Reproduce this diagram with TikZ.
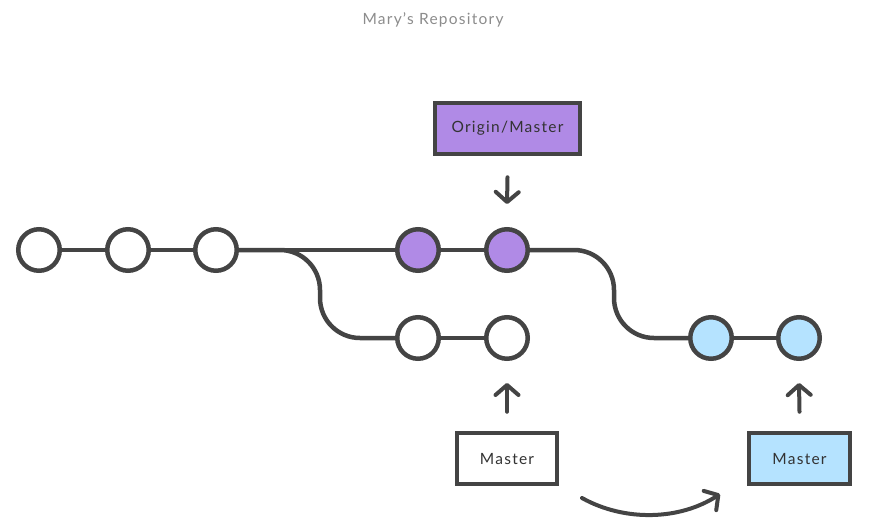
\documentclass[tikz,border=0pt]{standalone}
\usepackage{fontspec}
\setmainfont{Lato}
\newfontfamily\boxfont[LetterSpace=8]{Lato}
\usetikzlibrary{arrows.meta}
\definecolor{linie}{HTML}{444444}
\definecolor{schrift}{HTML}{333333}
\definecolor{titel}{HTML}{8C8C8C}
\definecolor{lila}{HTML}{B08AE6}
\definecolor{hellblau}{HTML}{B5E3FF}
\tikzset{
    commit/.style={circle, draw=linie, line width=4.5pt, fill=white, minimum size=41.5pt, inner sep=0pt},
    zeiger/.style={rectangle, draw=linie, line width=4.5pt, fill=white, minimum height=51pt, inner sep=0pt, font=\boxfont\fontsize{15.5}{18}\selectfont, text=schrift},
    kante/.style={draw=linie, line width=4.5pt},
    pfeil/.style={draw=linie, line width=4pt, line cap=round, -{Straight Barb[round, length=10pt, width=23pt]}}
}
\begin{document}
\begin{tikzpicture}[x=1pt, y=-1pt]
    \useasboundingbox (0,0) rectangle (872,528);
    % Titel
    \node[font=\boxfont\fontsize{15.5}{18}\selectfont, text=titel] (titel) at (433,20) {Mary’s Repository};

    % Commits
    \foreach \x/\n in {39/c1, 128/c2, 216/c3} {
        \node[commit] (\n) at (\x,250) {};
    }
    \node[commit, fill=lila] (c4) at (418,250) {};
    \node[commit, fill=lila] (c5) at (507,250) {};
    \node[commit] (u1) at (418,338) {};
    \node[commit] (u2) at (507,338) {};
    \node[commit, fill=hellblau] (b1) at (711,338) {};
    \node[commit, fill=hellblau] (b2) at (799,338) {};

    % Kanten
    \draw[kante] (c1.east) -- (c2.west);
    \draw[kante] (c2.east) -- (c3.west);
    \draw[kante] (c3.east) -- (c4.west);
    \draw[kante] (c4.east) -- (c5.west);
    \draw[kante, rounded corners=40pt] (c3.east) -| (320,338) -- (u1.west);
    \draw[kante] (u1.east) -- (u2.west);
    \draw[kante, rounded corners=40pt] (c5.east) -| (614,338) -- (b1.west);
    \draw[kante] (b1.east) -- (b2.west);

    % Zeiger
    \node[zeiger, fill=lila, minimum width=145pt] (origin) at (507.5,128.5) {Origin/Master};
    \node[zeiger, minimum width=100pt] (master) at (507,458.5) {Master};
    \node[zeiger, fill=hellblau, minimum width=101pt] (neu) at (799.5,458.5) {Master};

    % Pfeile
    \draw[pfeil] ([yshift=-21pt]origin.south) -- ([yshift=23pt]c5.north);
    \draw[pfeil] ([yshift=19pt]master.north) -- ([yshift=-22pt]u2.south);
    \draw[pfeil] ([yshift=19pt]neu.north) -- ([yshift=-22pt]b2.south);
    \coordinate (von) at (582,498);
    \coordinate (nach) at (720,494);
    \draw[pfeil] (von) .. controls (625,522) and (680,520) .. (nach);
\end{tikzpicture}
\end{document}
